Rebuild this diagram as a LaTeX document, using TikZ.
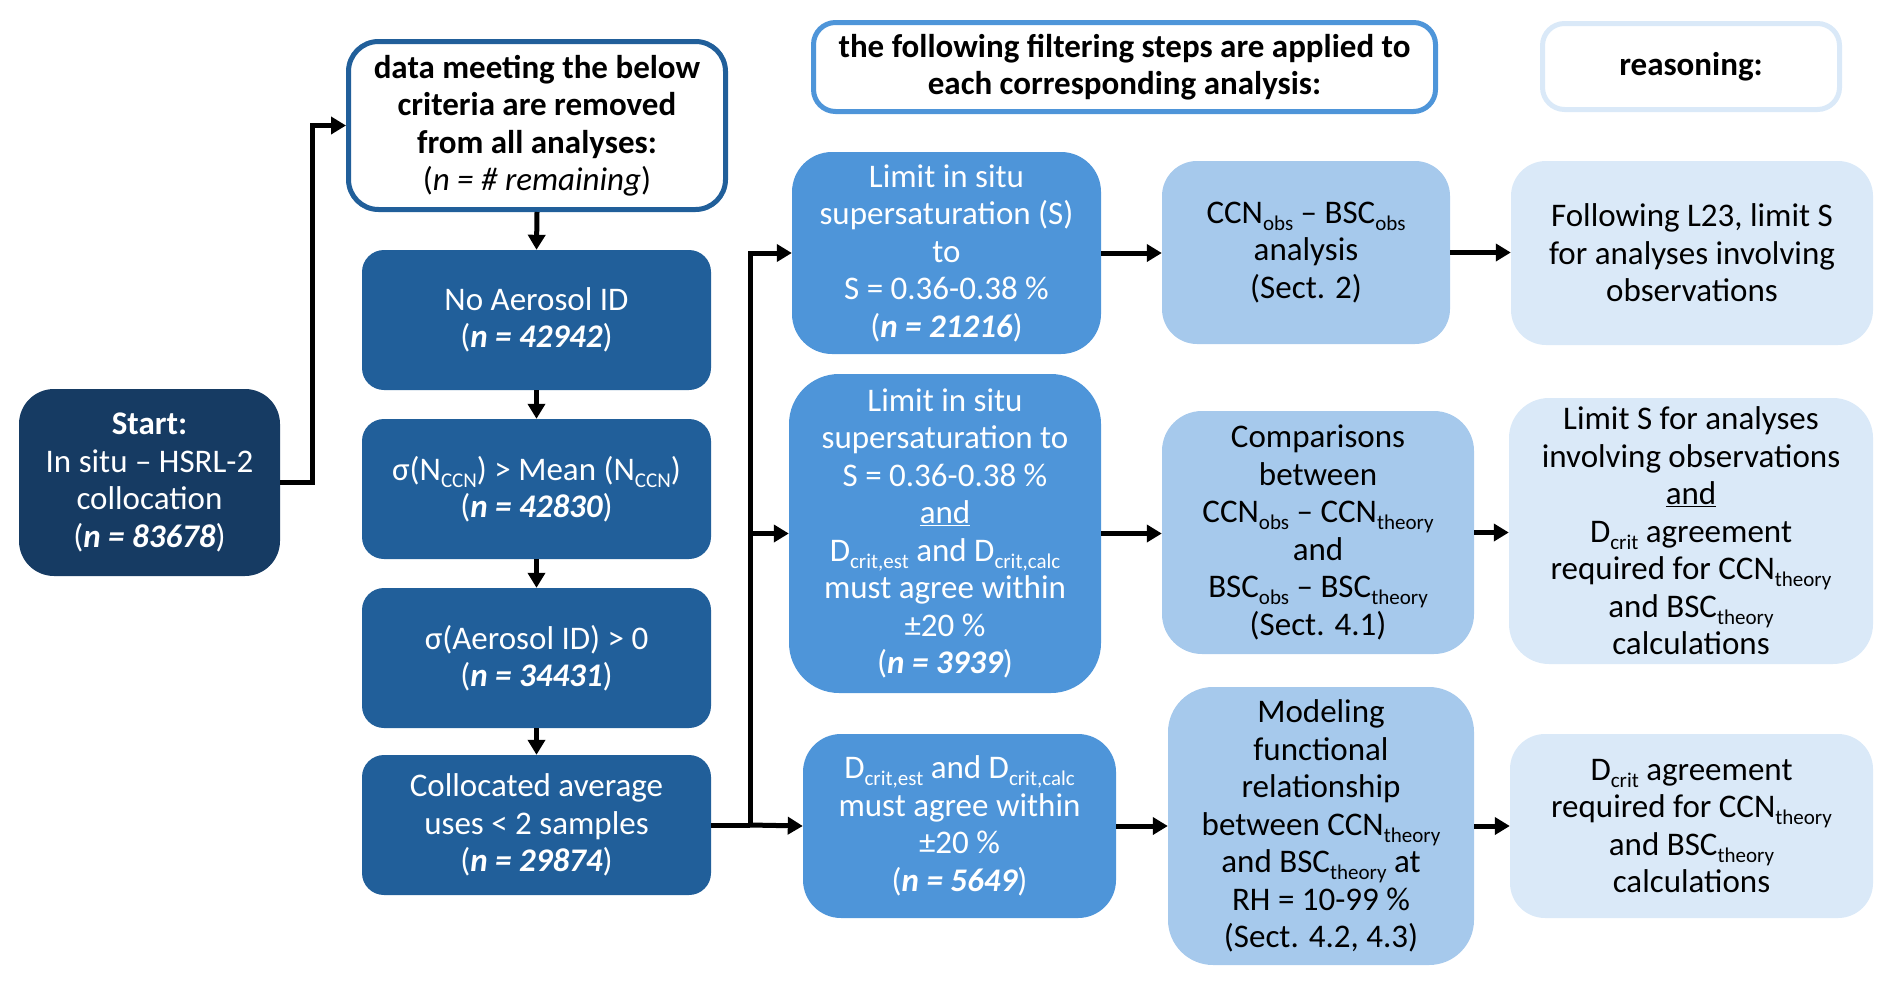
\documentclass[tikz,border=0pt]{standalone}
\usepackage{fontspec}
\setmainfont{Carlito}
\usetikzlibrary{arrows.meta}
\definecolor{cnavy}{HTML}{163B63}
\definecolor{cdark}{HTML}{215F9A}
\definecolor{cmid}{HTML}{4E95D9}
\definecolor{clight}{HTML}{A6C9EC}
\definecolor{cpale}{HTML}{DAE9F8}
\newcommand{\lo}[1]{\raisebox{-7pt}{\fontsize{21}{21}\selectfont #1}}
\newcommand{\nb}[1]{{\bfseries\itshape #1}}
\newcommand{\boxfont}{\fontsize{33}{37.5}\selectfont\lineskiplimit=-100pt\relax\lineskip=0pt\relax}
\begin{document}
\begin{tikzpicture}[x=1pt,y=-1pt,
  box/.style={align=center, inner sep=0pt, font=\boxfont},
  darkbox/.style={box, fill=cdark, text=white, rounded corners=22pt,
    minimum width=349pt, minimum height=140pt},
  midbox/.style={box, fill=cmid, text=white},
  lightbox/.style={box, fill=clight, text=black},
  palebox/.style={box, fill=cpale, text=black},
  hdr/.style={box, fill=white, line width=5pt, rounded corners=22pt},
  arr/.style={line width=5pt, -{Triangle[length=15pt,width=17pt]}},
  ln/.style={line width=5pt}
]
\useasboundingbox (0,0) rectangle (1892,985);

% start
\node[box, fill=cnavy, text=white, rounded corners=35pt,
  minimum width=261pt, minimum height=187pt] (start) at (149.5,482.5)
  {\textbf{Start:}\\In situ -- HSRL-2\\collocation\\(\nb{n = 83678})};

% header 1
\node[hdr, draw=cdark, rounded corners=30pt, minimum width=377pt, minimum height=168pt] (h1) at (537,125.5)
  {\textbf{data meeting the below}\\\textbf{criteria are removed}\\\textbf{from all analyses:}\\(\textit{n = \# remaining})};

% filter boxes
\node[darkbox] (b1) at (536.5,320) {No Aerosol ID\\(\nb{n = 42942})};
\node[darkbox] (b2) at (536.5,489) {σ(N\lo{CCN}) > Mean (N\lo{CCN})\\(\nb{n = 42830})};
\node[darkbox] (b3) at (536.5,658) {σ(Aerosol ID) > 0\\(\nb{n = 34431})};
\node[darkbox] (b4) at (536.5,825) {Collocated average\\uses < 2 samples\\(\nb{n = 29874})};

% headers 2 and 3
\node[hdr, draw=cmid, minimum width=622pt, minimum height=89pt] (h2) at (1124.5,67)
  {\textbf{the following filtering steps are applied to}\\\textbf{each corresponding analysis:}};
\node[hdr, draw=cpale, minimum width=297pt, minimum height=86pt] (h3) at (1691,66.5)
  {\textbf{reasoning:}};

% column 2
\node[midbox, rounded corners=40pt, minimum width=309pt, minimum height=202pt] (c2a) at (946.5,253)
  {Limit in situ\\supersaturation (S)\\to\\S = 0.36-0.38 \%\\(\nb{n = 21216})};
\node[midbox, rounded corners=50pt, minimum width=312pt, minimum height=319pt] (c2b) at (945,533.5)
  {Limit in situ\\supersaturation to\\S = 0.36-0.38 \%\\\underline{and}\\D\lo{crit,est} and D\lo{crit,calc}\\must agree within\\±20 \%\\(\nb{n = 3939})};
\node[midbox, rounded corners=38pt, minimum width=313pt, minimum height=184pt] (c2c) at (959.5,826)
  {D\lo{crit,est} and D\lo{crit,calc}\\must agree within\\±20 \%\\(\nb{n = 5649})};

% column 3
\node[lightbox, rounded corners=35pt, minimum width=288pt, minimum height=183pt] (c3a) at (1306,252.5)
  {CCN\lo{obs} -- BSC\lo{obs}\\analysis\\(Sect. 2)};
\node[lightbox, rounded corners=40pt, minimum width=312pt, minimum height=243pt] (c3b) at (1318,532.5)
  {Comparisons\\between\\CCN\lo{obs} -- CCN\lo{theory}\\and\\BSC\lo{obs} -- BSC\lo{theory}\\(Sect. 4.1)};
\node[lightbox, rounded corners=45pt, minimum width=306pt, minimum height=278pt] (c3c) at (1321,826)
  {Modeling\\functional\\relationship\\between CCN\lo{theory}\\and BSC\lo{theory} at\\RH = 10-99 \%\\(Sect. 4.2, 4.3)};

% column 4
\node[palebox, rounded corners=35pt, minimum width=362pt, minimum height=184pt] (c4a) at (1692,253)
  {Following L23, limit S\\for analyses involving\\observations};
\node[palebox, rounded corners=40pt, minimum width=364pt, minimum height=266pt] (c4b) at (1691,531)
  {Limit S for analyses\\involving observations\\\underline{and}\\D\lo{crit} agreement\\required for CCN\lo{theory}\\and BSC\lo{theory}\\calculations};
\node[palebox, rounded corners=35pt, minimum width=363pt, minimum height=184pt] (c4c) at (1691.5,826)
  {D\lo{crit} agreement\\required for CCN\lo{theory}\\and BSC\lo{theory}\\calculations};

% connectors
\draw[arr] (start.east) -- ++(32,0) |- (h1.west);
\draw[arr] (h1.south) -- (b1.north);
\draw[arr] (b1.south) -- (b2.north);
\draw[arr] (b2.south) -- (b3.north);
\draw[arr] (b3.south) -- (b4.north);

\coordinate (j) at (750,825);
\draw[ln] (b4.east) -- (j);
\draw[arr] (j) |- (c2a.west);
\draw[arr] (j) |- (c2b.west);
\draw[arr] (j) -- (c2c.west);

\draw[arr] (c2a.east) -- (c2a.east -| c3a.west);
\draw[arr] (c2b.east) -- (c2b.east -| c3b.west);
\draw[arr] (c2c.east) -- (c2c.east -| c3c.west);
\draw[arr] (c3a.east) -- (c3a.east -| c4a.west);
\draw[arr] (c3b.east) -- (c3b.east -| c4b.west);
\draw[arr] (c3c.east) -- (c3c.east -| c4c.west);
\end{tikzpicture}
\end{document}
